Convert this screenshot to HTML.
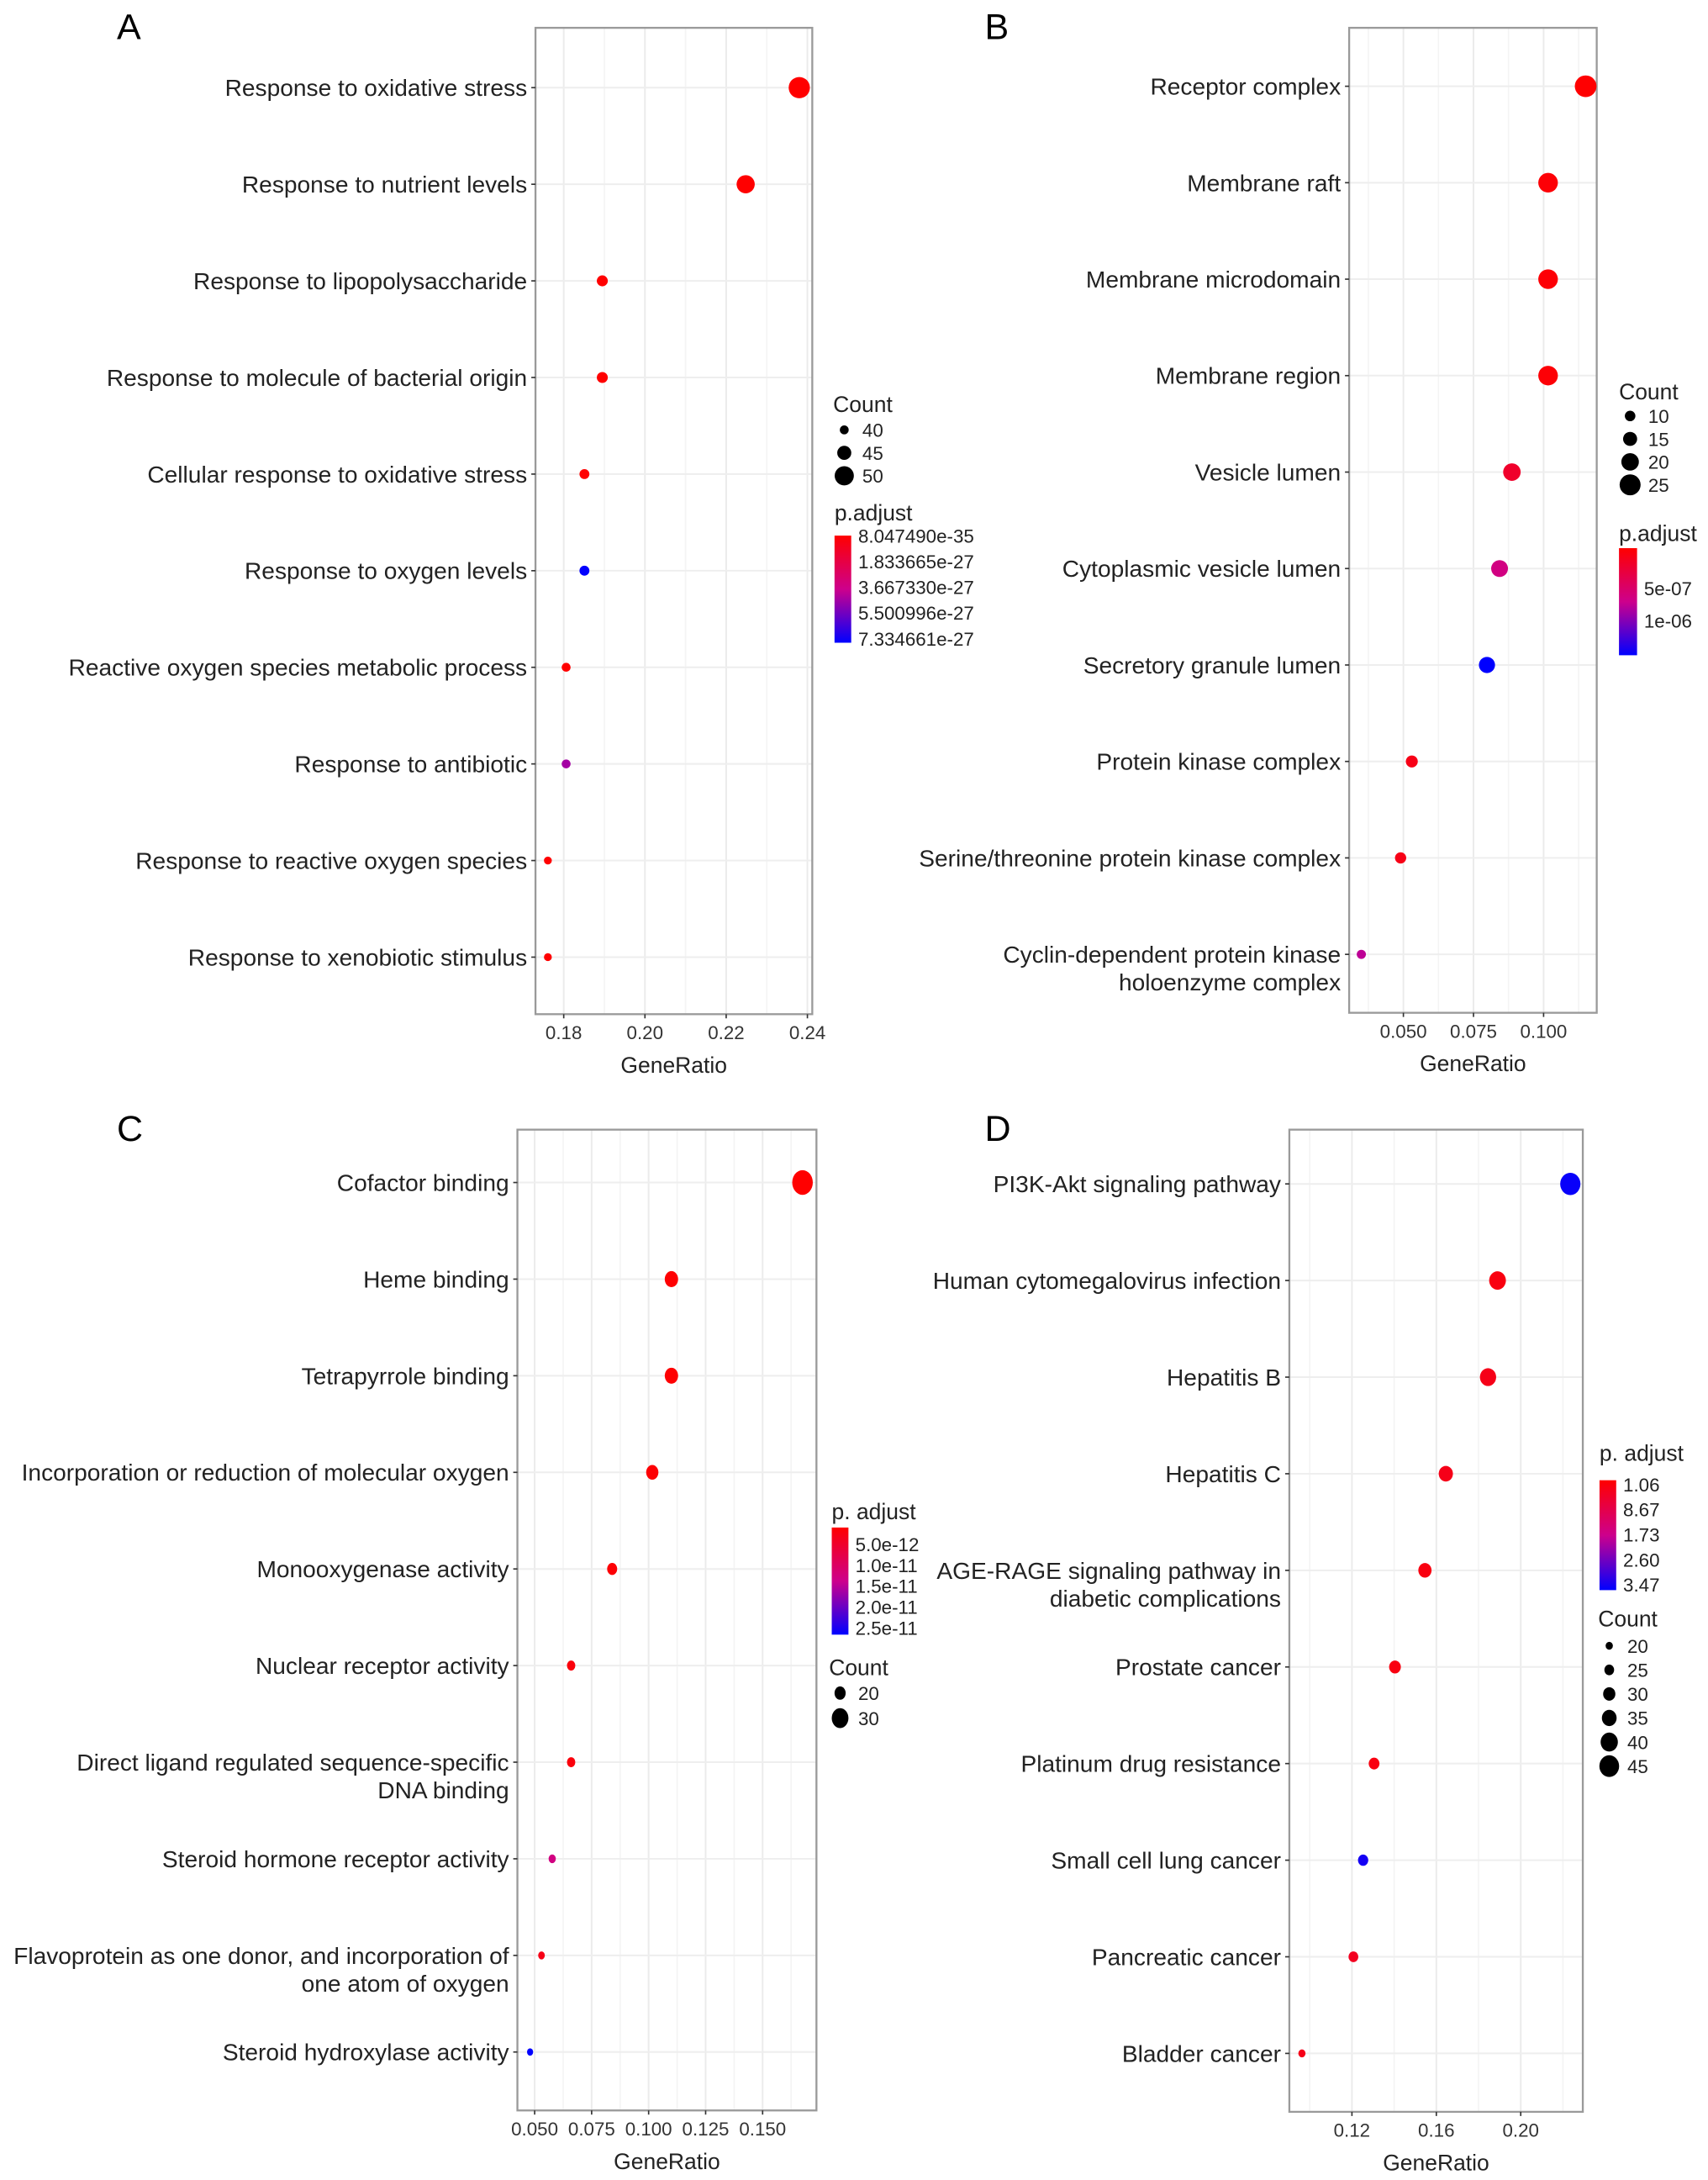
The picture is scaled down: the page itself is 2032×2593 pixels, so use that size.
<!DOCTYPE html>
<html><head><meta charset="utf-8"><style>
html,body{margin:0;padding:0;background:#fff;}
svg{display:block;font-family:"Liberation Sans",Arial,sans-serif;}
</style></head><body>
<svg id="fig" width="2032" height="2593" viewBox="0 0 1228 1567" preserveAspectRatio="none" xmlns="http://www.w3.org/2000/svg"></svg>
<script>
// ---- Panel A data ----
const catsA = ["Response to oxidative stress","Response to nutrient levels","Response to lipopolysaccharide","Response to molecule of bacterial origin","Cellular response to oxidative stress","Response to oxygen levels","Reactive oxygen species metabolic process","Response to antibiotic","Response to reactive oxygen species","Response to xenobiotic stimulus"];
const ratioA = [0.238,0.2248,0.1895,0.1895,0.1851,0.1851,0.1806,0.1806,0.1761,0.1761];
const countA = [52,49,42,42,41,41,40,40,39,39];
const padjA = [1e-34,2e-34,5e-31,5e-31,8e-31,7.3e-27,1e-30,4.4e-27,1e-30,1e-30];
const ticksA = [0.18,0.20,0.22,0.24];
const tickLabA = ["0.18","0.20","0.22","0.24"];
const sizeLegA = [40,45,50];
const colLabA = ["8.047490e-35","1.833665e-27","3.667330e-27","5.500996e-27","7.334661e-27"];
// ---- Panel B data ----
const catsB = ["Receptor complex","Membrane raft","Membrane microdomain","Membrane region","Vesicle lumen","Cytoplasmic vesicle lumen","Secretory granule lumen","Protein kinase complex","Serine/threonine protein kinase complex","Cyclin-dependent protein kinase|holoenzyme complex"];
const ratioB = [0.115,0.1016,0.1016,0.1016,0.0887,0.0843,0.0798,0.053,0.049,0.035];
const countB = [26,23,23,23,20,19,18,12,11,8];
const padjB = [5e-9,3e-8,3e-8,3e-8,2e-7,6e-7,1.3e-6,1e-7,1e-7,7e-7];
const ticksB = [0.050,0.075,0.100];
const tickLabB = ["0.050","0.075","0.100"];
const sizeLegB = [10,15,20,25];
const colLabB = ["5e-07","1e-06"];
// ---- Panel C data ----
const catsC = ["Cofactor binding","Heme binding","Tetrapyrrole binding","Incorporation or reduction of molecular oxygen","Monooxygenase activity","Nuclear receptor activity","Direct ligand regulated sequence-specific|DNA binding","Steroid hormone receptor activity","Flavoprotein as one donor, and incorporation of|one atom of oxygen","Steroid hydroxylase activity"];
const ratioC = [0.1675,0.110,0.110,0.1016,0.084,0.066,0.066,0.0577,0.053,0.048];
const countC = [37,24,24,22,18,15,15,13,12,11];
const padjC = [1e-14,2e-13,2e-13,4e-13,5e-13,1e-12,1e-12,1.2e-11,2e-12,2.6e-11];
const ticksC = [0.050,0.075,0.100,0.125,0.150];
const tickLabC = ["0.050","0.075","0.100","0.125","0.150"];
const sizeLegC = [20,30];
const colLabC = ["5.0e-12","1.0e-11","1.5e-11","2.0e-11","2.5e-11"];
// ---- Panel D data ----
const catsD = ["PI3K-Akt signaling pathway","Human cytomegalovirus infection","Hepatitis B","Hepatitis C","AGE-RAGE signaling pathway in|diabetic complications","Prostate cancer","Platinum drug resistance","Small cell lung cancer","Pancreatic cancer","Bladder cancer"];
const ratioD = [0.2235,0.189,0.1845,0.1645,0.1546,0.1404,0.1305,0.1253,0.1207,0.0963];
const countD = [46,39,38,34,32,29,27,26,25,20];
const padjD = [3.4,0.2,0.3,0.3,0.2,0.2,0.2,3.3,0.4,0.3];
const ticksD = [0.12,0.16,0.20];
const tickLabD = ["0.12","0.16","0.20"];
const sizeLegD = [20,25,30,35,40,45];
const colLabD = ["1.06","8.67","1.73","2.60","3.47"];

const NS="http://www.w3.org/2000/svg";
const svg=document.getElementById('fig');
function mk(tag,attrs,parent,text){const e=document.createElementNS(NS,tag);for(const k in attrs)e.setAttribute(k,attrs[k]);if(text!==undefined)e.textContent=text;(parent||svg).appendChild(e);return e;}
function col(t){t=Math.max(0,Math.min(1,t));
  let r,g=0,b;
  if(t<0.5){const u=t/0.5;r=255+(205-255)*u;b=0+(140-0)*u;}
  else{const u=(t-0.5)/0.5;r=205*(1-u);b=140+(255-140)*u;}
  return `rgb(${Math.round(r)},${g},${Math.round(b)})`;}

function panel(p){
  const g=mk('g',{});
  
  
  const xs=v=>p.x0px+(v-p.x0)*p.ppu;
  const step=(p.rowLast-p.rowFirst)/(p.cats.length-1);
  const ys=i=>p.rowFirst+i*step;
  const pmax=p.pdomMax, pmn=p.pdomMin;
  const cs=v=>col((v-pmn)/(pmax-pmn));
  const rs=c=>p.r0+(c-p.c0)*p.rk;
  const lt=mk('text',{x:p.letterX,y:p.top+8,'font-size':26,fill:'#000'},g,p.id);
  
  
  mk('rect',{x:p.left,y:p.top,width:p.right-p.left,height:p.bottom-p.top,fill:'#fff'},g);
  const dt=p.ticks[1]-p.ticks[0];
  for(let v=p.ticks[0]-dt*1.5;v<=p.ticks[p.ticks.length-1]+dt;v+=dt){const x=xs(v);if(x>p.left&&x<p.right)mk('line',{x1:x,x2:x,y1:p.top,y2:p.bottom,stroke:'#f4f4f4','stroke-width':1},g);}
  p.ticks.forEach(v=>{const x=xs(v);mk('line',{x1:x,x2:x,y1:p.top,y2:p.bottom,stroke:'#ebebeb','stroke-width':1.2},g);});
  p.cats.forEach((c,i)=>mk('line',{x1:p.left,x2:p.right,y1:ys(i),y2:ys(i),stroke:'#eeeeee','stroke-width':1.2},g));
  mk('rect',{x:p.left,y:p.top,width:p.right-p.left,height:p.bottom-p.top,fill:'none',stroke:'#9a9a9a','stroke-width':1.4},g);
  p.cats.forEach((c,i)=>{
    const lines=c.split('|');
    lines.forEach((ln,j)=>{const t=mk('text',{x:p.left-6,y:ys(i)+6+j*20,'text-anchor':'end','font-size':17,fill:'#222'},g,ln);
      
      });
    mk('line',{x1:p.left-3,x2:p.left,y1:ys(i),y2:ys(i),stroke:'#333','stroke-width':1},g);
  });
  p.ticks.forEach((v,i)=>{const x=xs(v);mk('line',{x1:x,x2:x,y1:p.bottom,y2:p.bottom+3,stroke:'#333','stroke-width':1},g);
    const t=mk('text',{x:x,y:p.bottom+18,'text-anchor':'middle','font-size':13.5,fill:'#333'},g,p.tickLab[i]);
    
    });
  const xt=mk('text',{x:(p.left+p.right)/2,y:p.bottom+42,'text-anchor':'middle','font-size':16,fill:'#222'},g,'GeneRatio');
  
  
  p.cats.forEach((c,i)=>{const r=rs(p.count[i]);
    const e=mk('ellipse',{cx:xs(p.ratio[i]),cy:ys(i),rx:r,ry:r*p.asp,fill:cs(p.padj[i])},g);
    
    });
  const st=mk('text',{x:p.sizeX-8,y:p.sizeTitleY,'font-size':16,fill:'#222'},g,'Count');
  
  
  p.sizeLeg.forEach((c,i)=>{const y=p.sizeY0+i*p.sizeDy;const r=rs(c);
    mk('ellipse',{cx:p.sizeX,cy:y,rx:r,ry:r*p.asp,fill:'#000'},g);
    const t=mk('text',{x:p.sizeX+13,y:y+5,'font-size':13.5,fill:'#222'},g,String(c));
    
    });
  const ct=mk('text',{x:p.cbX,y:p.cbTitleY,'font-size':16,fill:'#222'},g,p.cbTitle);
  
  
  const gid='grad'+p.id;
  const defs=mk('defs',{},g);const lg=mk('linearGradient',{id:gid,x1:0,y1:0,x2:0,y2:1},defs);
  mk('stop',{offset:'0','stop-color':'#ff0000'},lg);mk('stop',{offset:'0.5','stop-color':'#cd008c'},lg);mk('stop',{offset:'1','stop-color':'#0000ff'},lg);
  const cb=mk('rect',{x:p.cbX,y:p.cbY0,width:p.cbW,height:p.cbY1-p.cbY0,fill:`url(#${gid})`},g);
  
  
  p.colLab.forEach((l,i)=>{const y=p.cbLabY[0]+i*(p.colLab.length>1?(p.cbLabY[1]-p.cbLabY[0])/(p.colLab.length-1):0);
    const t=mk('text',{x:p.cbX+p.cbW+5,y:y,'font-size':13.5,fill:'#222'},g,l);
    
    });
}

panel({id:'A',cats:catsA,ratio:ratioA,count:countA,padj:padjA,ticks:ticksA,tickLab:tickLabA,sizeLeg:sizeLegA,colLab:colLabA,
 left:385,right:584,top:20,bottom:729,rowFirst:63,rowLast:688,x0:0.18,x0px:405.3,ppu:2920,letterX:84,
 r0:3.2,c0:40,rk:0.37,asp:1,pdomMin:8.05e-35,pdomMax:7.33e-27,
 sizeX:607,sizeTitleY:296,sizeY0:309,sizeDy:16.5,cbTitle:'p.adjust',cbX:600,cbW:12,cbTitleY:374,cbY0:385,cbY1:462,cbLabY:[390,464]});
panel({id:'B',cats:catsB,ratio:ratioB,count:countB,padj:padjB,ticks:ticksB,tickLab:tickLabB,sizeLeg:sizeLegB,colLab:colLabB,
 left:970,right:1148,top:20,bottom:728,rowFirst:62,rowLast:686,x0:0.05,x0px:1009,ppu:2016,letterX:708,
 r0:3.8,c0:10,rk:0.25,asp:1,pdomMin:0,pdomMax:1.3e-6,
 sizeX:1172,sizeTitleY:287,sizeY0:299,sizeDy:16.5,cbTitle:'p.adjust',cbX:1164,cbW:13,cbTitleY:389,cbY0:394,cbY1:471,cbLabY:[428,451]});
panel({id:'C',cats:catsC,ratio:ratioC,count:countC,padj:padjC,ticks:ticksC,tickLab:tickLabC,sizeLeg:sizeLegC,colLab:colLabC,
 left:372,right:587,top:812,bottom:1517,rowFirst:850,rowLast:1475,x0:0.05,x0px:384.4,ppu:1639,letterX:84,
 r0:4,c0:20,rk:0.2,asp:1.2,pdomMin:0,pdomMax:2.6e-11,
 sizeX:604,sizeTitleY:1204,sizeY0:1217,sizeDy:18,cbTitle:'p. adjust',cbX:598,cbW:12,cbTitleY:1092,cbY0:1098,cbY1:1175,cbLabY:[1115,1175]});
panel({id:'D',cats:catsD,ratio:ratioD,count:countD,padj:padjD,ticks:ticksD,tickLab:tickLabD,sizeLeg:sizeLegD,colLab:colLabD,
 left:927,right:1138,top:812,bottom:1518,rowFirst:851,rowLast:1476,x0:0.12,x0px:972,ppu:1517,letterX:708,
 r0:2.6,c0:20,rk:0.18,asp:1.1,pdomMin:0,pdomMax:3.47,
 sizeX:1157,sizeTitleY:1169,sizeY0:1183,sizeDy:17.3,cbTitle:'p. adjust',cbX:1150,cbW:12,cbTitleY:1050,cbY0:1064,cbY1:1143,cbLabY:[1072,1144]});
</script>
</body></html>
